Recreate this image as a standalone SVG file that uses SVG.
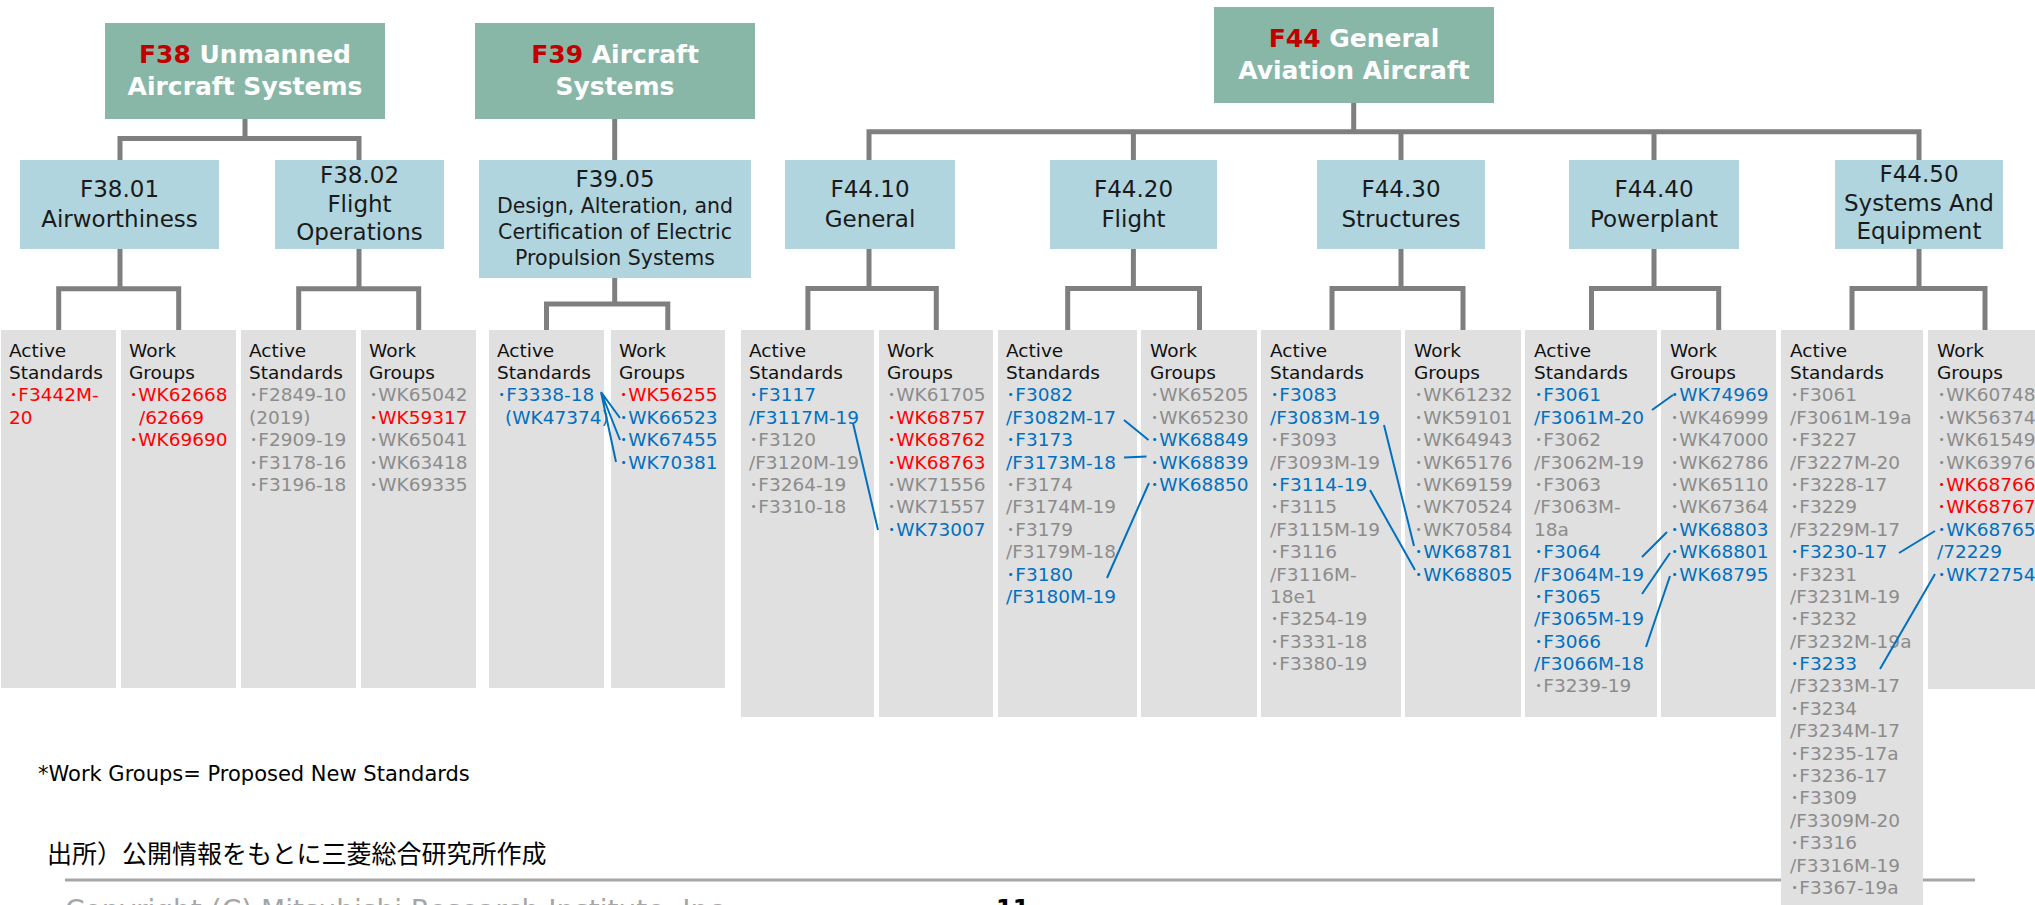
<svg xmlns="http://www.w3.org/2000/svg" width="2035" height="905" viewBox="0 0 2035 905">
<style>
.top{fill:#89b7a7}
.sub{fill:#b0d5df}
.col{fill:#e0e0e0}
.tt{font-family:"DejaVu Sans","Noto Sans CJK JP",sans-serif;font-weight:bold;font-size:25px;fill:#ffffff;text-anchor:middle}
.dr{fill:#c00000}
.st{font-family:"DejaVu Sans","Noto Sans CJK JP",sans-serif;font-size:23px;fill:#1a1a1a;text-anchor:middle}
.sd{font-size:20.5px}
.ct{font-family:"DejaVu Sans","Noto Sans CJK JP",sans-serif;font-size:18.5px;fill:#111111}
.r{fill:#ff0000}
.b{fill:#0070c0}
.g{fill:#8c8c8c}
.conn{fill:none;stroke:#7f7f7f;stroke-width:5}
.bl{fill:none;stroke:#0070c0;stroke-width:2}
.note{font-family:"DejaVu Sans",sans-serif;font-size:21px;fill:#000}
.src{font-family:"Noto Sans CJK JP",sans-serif;font-size:25px;fill:#000}
.cpy{font-family:"DejaVu Sans",sans-serif;font-size:28px;fill:#a6a6a6}
</style>

<!-- footer line (behind columns) -->
<line x1="65" y1="880" x2="1975" y2="880" stroke="#a6a6a6" stroke-width="3"/>

<g id="connectors">
<path class="conn" d="M245,119V138.5 M120,160V138.5H359V160"/>
<path class="conn" d="M120,249V288.7 M58.7,330V288.7H178.7V330"/>
<path class="conn" d="M359,249V288.7 M298.7,330V288.7H418.7V330"/>
<path class="conn" d="M614.7,119V160"/>
<path class="conn" d="M614.7,278V304 M546.5,330V304H667.8V330"/>
<path class="conn" d="M1353.7,103V131.7 M869,160V131.7H1919V160 M1133.4,131.7V160 M1401,131.7V160 M1654,131.7V160"/>
<path class="conn" d="M869,249V288.5 M807.9,330V288.5H936.3V330"/>
<path class="conn" d="M1133.4,249V288.5 M1067.7,330V288.5H1199.5V330"/>
<path class="conn" d="M1401,249V288.5 M1332,330V288.5H1463V330"/>
<path class="conn" d="M1654,249V288.5 M1591.5,330V288.5H1718.7V330"/>
<path class="conn" d="M1919,249V288.5 M1852,330V288.5H1985V330"/>
</g>

<g id="F38">
<rect class="top" x="105" y="23" width="280" height="96"/>
<text class="tt" x="245" y="63"><tspan class="dr">F38</tspan> Unmanned</text>
<text class="tt" x="245" y="95">Aircraft Systems</text>
</g>
<g id="F39">
<rect class="top" x="475" y="23" width="280" height="96"/>
<text class="tt" x="615" y="63"><tspan class="dr">F39</tspan> Aircraft</text>
<text class="tt" x="615" y="95">Systems</text>
</g>
<g id="F44">
<rect class="top" x="1214" y="7" width="280" height="96"/>
<text class="tt" x="1354" y="47"><tspan class="dr">F44</tspan> General</text>
<text class="tt" x="1354" y="79">Aviation Aircraft</text>
</g>

<g id="F38.01">
<rect class="sub" x="20" y="160" width="199" height="89"/>
<text class="st" x="119.5" y="197">F38.01</text>
<text class="st" x="119.5" y="226.5">Airworthiness</text>
</g>
<g id="F38.02">
<rect class="sub" x="275" y="160" width="169" height="89"/>
<text class="st" x="359.5" y="182.5">F38.02</text>
<text class="st" x="359.5" y="211.5">Flight</text>
<text class="st" x="359.5" y="239.5">Operations</text>
</g>
<g id="F39.05">
<rect class="sub" x="479" y="160" width="272" height="118"/>
<text class="st" x="615" y="187">F39.05</text>
<text class="st sd" x="615" y="213">Design, Alteration, and</text>
<text class="st sd" x="615" y="239">Certification of Electric</text>
<text class="st sd" x="615" y="265">Propulsion Systems</text>
</g>
<g id="F44.10">
<rect class="sub" x="785" y="160" width="170" height="89"/>
<text class="st" x="870" y="197">F44.10</text>
<text class="st" x="870" y="226.5">General</text>
</g>
<g id="F44.20">
<rect class="sub" x="1050" y="160" width="167" height="89"/>
<text class="st" x="1133.5" y="197">F44.20</text>
<text class="st" x="1133.5" y="226.5">Flight</text>
</g>
<g id="F44.30">
<rect class="sub" x="1317" y="160" width="168" height="89"/>
<text class="st" x="1401" y="197">F44.30</text>
<text class="st" x="1401" y="226.5">Structures</text>
</g>
<g id="F44.40">
<rect class="sub" x="1569" y="160" width="170" height="89"/>
<text class="st" x="1654" y="197">F44.40</text>
<text class="st" x="1654" y="226.5">Powerplant</text>
</g>
<g id="F44.50">
<rect class="sub" x="1835" y="160" width="168" height="89"/>
<text class="st" x="1919" y="182">F44.50</text>
<text class="st" x="1919" y="211">Systems And</text>
<text class="st" x="1919" y="238.5">Equipment</text>
</g>

<g id="c1">
<rect class="col" x="1" y="330" width="115" height="358"/>
<text class="ct" y="356.5"><tspan x="9">Active</tspan><tspan x="9" dy="22.4">Standards</tspan><tspan x="9" dy="22.4" class="r">･F3442M-</tspan><tspan x="9" dy="22.4" class="r">20</tspan></text>
</g>
<g id="c2">
<rect class="col" x="121" y="330" width="115" height="358"/>
<text class="ct" y="356.5"><tspan x="129">Work</tspan><tspan x="129" dy="22.4">Groups</tspan><tspan x="129" dy="22.4" class="r">･WK62668</tspan><tspan x="139" dy="22.4" class="r">/62669</tspan><tspan x="129" dy="22.4" class="r">･WK69690</tspan></text>
</g>
<g id="c3">
<rect class="col" x="241" y="330" width="115" height="358"/>
<text class="ct" y="356.5"><tspan x="249">Active</tspan><tspan x="249" dy="22.4">Standards</tspan><tspan x="249" dy="22.4" class="g">･F2849-10</tspan><tspan x="249" dy="22.4" class="g">(2019)</tspan><tspan x="249" dy="22.4" class="g">･F2909-19</tspan><tspan x="249" dy="22.4" class="g">･F3178-16</tspan><tspan x="249" dy="22.4" class="g">･F3196-18</tspan></text>
</g>
<g id="c4">
<rect class="col" x="361" y="330" width="115" height="358"/>
<text class="ct" y="356.5"><tspan x="369">Work</tspan><tspan x="369" dy="22.4">Groups</tspan><tspan x="369" dy="22.4" class="g">･WK65042</tspan><tspan x="369" dy="22.4" class="r">･WK59317</tspan><tspan x="369" dy="22.4" class="g">･WK65041</tspan><tspan x="369" dy="22.4" class="g">･WK63418</tspan><tspan x="369" dy="22.4" class="g">･WK69335</tspan></text>
</g>
<g id="c5">
<rect class="col" x="489" y="330" width="115" height="358"/>
<text class="ct" y="356.5"><tspan x="497">Active</tspan><tspan x="497" dy="22.4">Standards</tspan><tspan x="497" dy="22.4" class="b">･F3338-18</tspan><tspan x="505" dy="22.4" class="b">(WK47374)</tspan></text>
</g>
<g id="c6">
<rect class="col" x="611" y="330" width="114" height="358"/>
<text class="ct" y="356.5"><tspan x="619">Work</tspan><tspan x="619" dy="22.4">Groups</tspan><tspan x="619" dy="22.4" class="r">･WK56255</tspan><tspan x="619" dy="22.4" class="b">･WK66523</tspan><tspan x="619" dy="22.4" class="b">･WK67455</tspan><tspan x="619" dy="22.4" class="b">･WK70381</tspan></text>
</g>
<g id="c7">
<rect class="col" x="741" y="330" width="133" height="387"/>
<text class="ct" y="356.5"><tspan x="749">Active</tspan><tspan x="749" dy="22.4">Standards</tspan><tspan x="749" dy="22.4" class="b">･F3117</tspan><tspan x="749" dy="22.4" class="b">/F3117M-19</tspan><tspan x="749" dy="22.4" class="g">･F3120</tspan><tspan x="749" dy="22.4" class="g">/F3120M-19</tspan><tspan x="749" dy="22.4" class="g">･F3264-19</tspan><tspan x="749" dy="22.4" class="g">･F3310-18</tspan></text>
</g>
<g id="c8">
<rect class="col" x="879" y="330" width="114" height="387"/>
<text class="ct" y="356.5"><tspan x="887">Work</tspan><tspan x="887" dy="22.4">Groups</tspan><tspan x="887" dy="22.4" class="g">･WK61705</tspan><tspan x="887" dy="22.4" class="r">･WK68757</tspan><tspan x="887" dy="22.4" class="r">･WK68762</tspan><tspan x="887" dy="22.4" class="r">･WK68763</tspan><tspan x="887" dy="22.4" class="g">･WK71556</tspan><tspan x="887" dy="22.4" class="g">･WK71557</tspan><tspan x="887" dy="22.4" class="b">･WK73007</tspan></text>
</g>
<g id="c9">
<rect class="col" x="998" y="330" width="139" height="387"/>
<text class="ct" y="356.5"><tspan x="1006">Active</tspan><tspan x="1006" dy="22.4">Standards</tspan><tspan x="1006" dy="22.4" class="b">･F3082</tspan><tspan x="1006" dy="22.4" class="b">/F3082M-17</tspan><tspan x="1006" dy="22.4" class="b">･F3173</tspan><tspan x="1006" dy="22.4" class="b">/F3173M-18</tspan><tspan x="1006" dy="22.4" class="g">･F3174</tspan><tspan x="1006" dy="22.4" class="g">/F3174M-19</tspan><tspan x="1006" dy="22.4" class="g">･F3179</tspan><tspan x="1006" dy="22.4" class="g">/F3179M-18</tspan><tspan x="1006" dy="22.4" class="b">･F3180</tspan><tspan x="1006" dy="22.4" class="b">/F3180M-19</tspan></text>
</g>
<g id="c10">
<rect class="col" x="1141" y="330" width="116" height="387"/>
<text class="ct" y="356.5"><tspan x="1150">Work</tspan><tspan x="1150" dy="22.4">Groups</tspan><tspan x="1150" dy="22.4" class="g">･WK65205</tspan><tspan x="1150" dy="22.4" class="g">･WK65230</tspan><tspan x="1150" dy="22.4" class="b">･WK68849</tspan><tspan x="1150" dy="22.4" class="b">･WK68839</tspan><tspan x="1150" dy="22.4" class="b">･WK68850</tspan></text>
</g>
<g id="c11">
<rect class="col" x="1261" y="330" width="140" height="387"/>
<text class="ct" y="356.5"><tspan x="1270">Active</tspan><tspan x="1270" dy="22.4">Standards</tspan><tspan x="1270" dy="22.4" class="b">･F3083</tspan><tspan x="1270" dy="22.4" class="b">/F3083M-19</tspan><tspan x="1270" dy="22.4" class="g">･F3093</tspan><tspan x="1270" dy="22.4" class="g">/F3093M-19</tspan><tspan x="1270" dy="22.4" class="b">･F3114-19</tspan><tspan x="1270" dy="22.4" class="g">･F3115</tspan><tspan x="1270" dy="22.4" class="g">/F3115M-19</tspan><tspan x="1270" dy="22.4" class="g">･F3116</tspan><tspan x="1270" dy="22.4" class="g">/F3116M-</tspan><tspan x="1270" dy="22.4" class="g">18e1</tspan><tspan x="1270" dy="22.4" class="g">･F3254-19</tspan><tspan x="1270" dy="22.4" class="g">･F3331-18</tspan><tspan x="1270" dy="22.4" class="g">･F3380-19</tspan></text>
</g>
<g id="c12">
<rect class="col" x="1405" y="330" width="116" height="387"/>
<text class="ct" y="356.5"><tspan x="1414">Work</tspan><tspan x="1414" dy="22.4">Groups</tspan><tspan x="1414" dy="22.4" class="g">･WK61232</tspan><tspan x="1414" dy="22.4" class="g">･WK59101</tspan><tspan x="1414" dy="22.4" class="g">･WK64943</tspan><tspan x="1414" dy="22.4" class="g">･WK65176</tspan><tspan x="1414" dy="22.4" class="g">･WK69159</tspan><tspan x="1414" dy="22.4" class="g">･WK70524</tspan><tspan x="1414" dy="22.4" class="g">･WK70584</tspan><tspan x="1414" dy="22.4" class="b">･WK68781</tspan><tspan x="1414" dy="22.4" class="b">･WK68805</tspan></text>
</g>
<g id="c13">
<rect class="col" x="1525" y="330" width="132" height="387"/>
<text class="ct" y="356.5"><tspan x="1534">Active</tspan><tspan x="1534" dy="22.4">Standards</tspan><tspan x="1534" dy="22.4" class="b">･F3061</tspan><tspan x="1534" dy="22.4" class="b">/F3061M-20</tspan><tspan x="1534" dy="22.4" class="g">･F3062</tspan><tspan x="1534" dy="22.4" class="g">/F3062M-19</tspan><tspan x="1534" dy="22.4" class="g">･F3063</tspan><tspan x="1534" dy="22.4" class="g">/F3063M-</tspan><tspan x="1534" dy="22.4" class="g">18a</tspan><tspan x="1534" dy="22.4" class="b">･F3064</tspan><tspan x="1534" dy="22.4" class="b">/F3064M-19</tspan><tspan x="1534" dy="22.4" class="b">･F3065</tspan><tspan x="1534" dy="22.4" class="b">/F3065M-19</tspan><tspan x="1534" dy="22.4" class="b">･F3066</tspan><tspan x="1534" dy="22.4" class="b">/F3066M-18</tspan><tspan x="1534" dy="22.4" class="g">･F3239-19</tspan></text>
</g>
<g id="c14">
<rect class="col" x="1661" y="330" width="115" height="387"/>
<text class="ct" y="356.5"><tspan x="1670">Work</tspan><tspan x="1670" dy="22.4">Groups</tspan><tspan x="1670" dy="22.4" class="b">･WK74969</tspan><tspan x="1670" dy="22.4" class="g">･WK46999</tspan><tspan x="1670" dy="22.4" class="g">･WK47000</tspan><tspan x="1670" dy="22.4" class="g">･WK62786</tspan><tspan x="1670" dy="22.4" class="g">･WK65110</tspan><tspan x="1670" dy="22.4" class="g">･WK67364</tspan><tspan x="1670" dy="22.4" class="b">･WK68803</tspan><tspan x="1670" dy="22.4" class="b">･WK68801</tspan><tspan x="1670" dy="22.4" class="b">･WK68795</tspan></text>
</g>
<g id="c15">
<rect class="col" x="1781" y="330" width="142" height="580"/>
<text class="ct" y="356.5"><tspan x="1790">Active</tspan><tspan x="1790" dy="22.4">Standards</tspan><tspan x="1790" dy="22.4" class="g">･F3061</tspan><tspan x="1790" dy="22.4" class="g">/F3061M-19a</tspan><tspan x="1790" dy="22.4" class="g">･F3227</tspan><tspan x="1790" dy="22.4" class="g">/F3227M-20</tspan><tspan x="1790" dy="22.4" class="g">･F3228-17</tspan><tspan x="1790" dy="22.4" class="g">･F3229</tspan><tspan x="1790" dy="22.4" class="g">/F3229M-17</tspan><tspan x="1790" dy="22.4" class="b">･F3230-17</tspan><tspan x="1790" dy="22.4" class="g">･F3231</tspan><tspan x="1790" dy="22.4" class="g">/F3231M-19</tspan><tspan x="1790" dy="22.4" class="g">･F3232</tspan><tspan x="1790" dy="22.4" class="g">/F3232M-19a</tspan><tspan x="1790" dy="22.4" class="b">･F3233</tspan><tspan x="1790" dy="22.4" class="g">/F3233M-17</tspan><tspan x="1790" dy="22.4" class="g">･F3234</tspan><tspan x="1790" dy="22.4" class="g">/F3234M-17</tspan><tspan x="1790" dy="22.4" class="g">･F3235-17a</tspan><tspan x="1790" dy="22.4" class="g">･F3236-17</tspan><tspan x="1790" dy="22.4" class="g">･F3309</tspan><tspan x="1790" dy="22.4" class="g">/F3309M-20</tspan><tspan x="1790" dy="22.4" class="g">･F3316</tspan><tspan x="1790" dy="22.4" class="g">/F3316M-19</tspan><tspan x="1790" dy="22.4" class="g">･F3367-19a</tspan></text>
</g>
<g id="c16">
<rect class="col" x="1928" y="330" width="110" height="359"/>
<text class="ct" y="356.5"><tspan x="1937">Work</tspan><tspan x="1937" dy="22.4">Groups</tspan><tspan x="1937" dy="22.4" class="g">･WK60748</tspan><tspan x="1937" dy="22.4" class="g">･WK56374</tspan><tspan x="1937" dy="22.4" class="g">･WK61549</tspan><tspan x="1937" dy="22.4" class="g">･WK63976</tspan><tspan x="1937" dy="22.4" class="r">･WK68766</tspan><tspan x="1937" dy="22.4" class="r">･WK68767</tspan><tspan x="1937" dy="22.4" class="b">･WK68765</tspan><tspan x="1937" dy="22.4" class="b">/72229</tspan><tspan x="1937" dy="22.4" class="b">･WK72754</tspan></text>
</g>

<g id="links">
<path class="bl" d="M601,392L620,418 M601,392L620,440 M601,392L616,462"/>
<path class="bl" d="M853,423L878,530"/>
<path class="bl" d="M1124,420L1148.5,440 M1124,457.5L1146.5,456.5 M1107,578L1149,483"/>
<path class="bl" d="M1384,425L1414,546 M1370,490L1415,570"/>
<path class="bl" d="M1652,410L1673,395 M1642,557L1667,532 M1642,594L1670,553 M1646,647L1670,576"/>
<path class="bl" d="M1899,553L1935,531 M1880,669L1935,574"/>
</g>

<g id="footer">
<text class="note" x="38" y="781">*Work Groups= Proposed New Standards</text>
<text class="src" x="47" y="863">出所）公開情報をもとに三菱総合研究所作成</text>
<text class="cpy" x="65" y="920">Copyright (C) Mitsubishi Research Institute, Inc.</text>
<text x="996" y="917" font-family="DejaVu Sans,sans-serif" font-weight="bold" font-size="24" fill="#000">11</text>
</g>
</svg>
